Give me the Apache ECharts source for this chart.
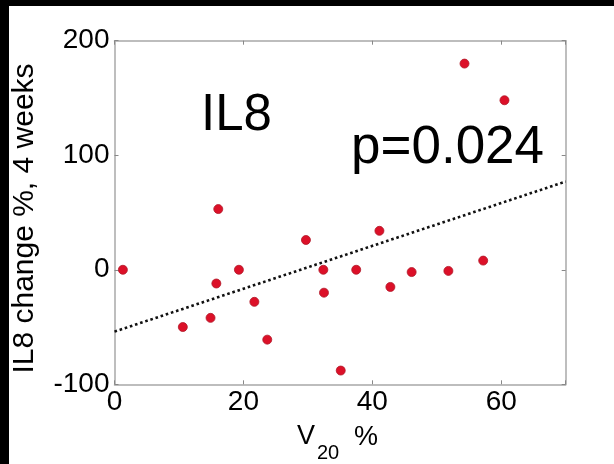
<!DOCTYPE html>
<html>
<head>
<meta charset="utf-8">
<script src="https://cdn.jsdelivr.net/npm/echarts@6/dist/echarts.min.js"></script>
<style>
html,body{margin:0;padding:0;background:#fff;}
#chart{width:614px;height:464px;}
</style>
</head>
<body>
<div id="chart"></div>
<script>
// V20 % (x) values
var v20 = [1.3, 10.6, 14.9, 15.8, 16.1, 19.3, 21.7, 23.7, 29.7, 32.4, 32.5, 35.1, 37.5, 41.1, 42.8, 46.1, 51.8, 54.3, 57.2, 60.5];
// IL8 change %, 4 weeks (y) values
var il8Change = [0, -50, -42, -12, 53, 0, -28, -61, 26, 0, -20, -88, 0, 34, -15, -2, -1, 180, 8, 148];
// regression line end points
var fitX = [0, 70];
var fitY = [-54, 77];
// axis ticks
var xTicks = [0, 20, 40, 60];
var yTicks = [-100, 0, 100, 200];
var titleText = 'IL8';
var pText = 'p=0.024';
var xNameMain = 'V';
var xNameSub = '20';
var xNameUnit = '%';
var yName = 'IL8 change %, 4 weeks';

var FONT = '"Liberation Sans", Arial, Helvetica, sans-serif';
var points = v20.map(function (x, i) { return [x, il8Change[i]]; });
var fitLine = fitX.map(function (x, i) { return [x, fitY[i]]; });

var axisLine = { show: true, onZero: false, lineStyle: { color: '#a8a8a8', width: 1.5 } };
var tick = { show: true, inside: true, length: 4, lineStyle: { color: '#888', width: 1 } };

var chart = echarts.init(document.getElementById('chart'), null, { renderer: 'canvas' });
chart.setOption({
  backgroundColor: '#ffffff',
  animation: false,
  grid: { left: 114.5, top: 40.7, right: 48.3, bottom: 79.7, containLabel: false, outerBoundsMode: 'none' },
  xAxis: [{
    type: 'value', min: 0, max: 70, interval: 20, position: 'bottom',
    axisLine: axisLine, axisTick: tick, splitLine: { show: false },
    axisLabel: {
      color: '#000', fontSize: 28, fontFamily: FONT, margin: 4,
      formatter: function (v) { return xTicks.indexOf(v) >= 0 ? String(v) : ''; }
    }
  }, {
    type: 'value', min: 0, max: 70, interval: 20, position: 'top',
    axisLine: axisLine, axisTick: tick, splitLine: { show: false },
    axisLabel: { show: false }
  }],
  yAxis: [{
    type: 'value', min: -100, max: 200, interval: 100, position: 'left',
    axisLine: axisLine, axisTick: tick, splitLine: { show: false },
    axisLabel: {
      color: '#000', fontSize: 28, fontFamily: FONT, margin: 5,
      formatter: function (v) { return yTicks.indexOf(v) >= 0 ? String(v) : ''; }
    },
    name: yName, nameLocation: 'middle', nameGap: 75,
    nameTextStyle: { color: '#000', fontSize: 30, fontFamily: FONT, padding: [0, 12, 0, 0] }
  }, {
    type: 'value', min: -100, max: 200, interval: 100, position: 'right',
    axisLine: axisLine, axisTick: tick, splitLine: { show: false },
    axisLabel: { show: false }
  }],
  graphic: [
    { type: 'rect', shape: { x: 0, y: 0, width: 614, height: 6 }, style: { fill: '#000' }, silent: true },
    { type: 'rect', shape: { x: 0, y: 0, width: 9, height: 464 }, style: { fill: '#000' }, silent: true },
    { type: 'text', left: 201, top: 90, style: { text: titleText, fontSize: 51, fontFamily: FONT, fill: '#000' } },
    { type: 'text', left: 351, top: 122, style: { text: pText, fontSize: 53, fontFamily: FONT, fill: '#000' } },
    { type: 'text', left: 297, top: 423, style: { text: xNameMain, fontSize: 27, fontFamily: FONT, fill: '#000' } },
    { type: 'text', left: 317, top: 443, style: { text: xNameSub, fontSize: 20, fontFamily: FONT, fill: '#000' } },
    { type: 'text', left: 354, top: 424, style: { text: xNameUnit, fontSize: 27, fontFamily: FONT, fill: '#000' } }
  ],
  series: [{
    type: 'line', data: fitLine, showSymbol: false, symbol: 'none',
    lineStyle: { color: '#111', width: 2.6, type: [2.6, 2.8] }, z: 2
  }, {
    type: 'scatter', data: points, symbol: 'circle', symbolSize: 9,
    itemStyle: { color: '#dc1028', borderColor: '#b01828', borderWidth: 0.8, opacity: 1 }, z: 3
  }]
});
</script>
</body>
</html>
